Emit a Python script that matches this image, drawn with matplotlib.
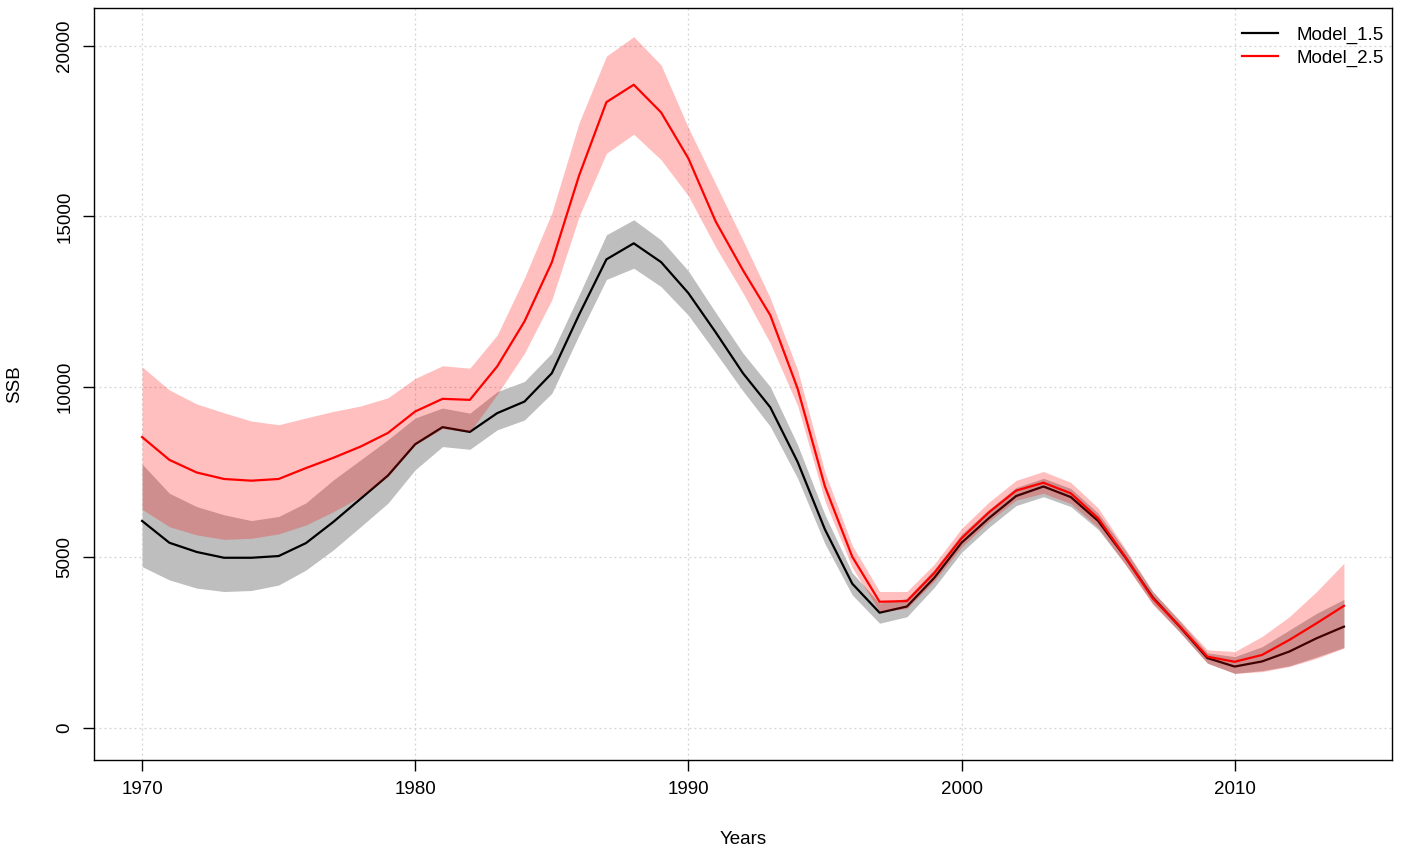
import numpy as np
import matplotlib
matplotlib.use('Agg')
import matplotlib.pyplot as plt

plt.rcParams['font.family'] = ['Liberation Sans', 'DejaVu Sans']

# DATA #
years = list(range(1970, 2015))

ssb_m15 = [6070, 5430, 5160, 4990, 4990, 5040, 5420, 6040, 6720, 7400,
           8320, 8820, 8680, 9230, 9570, 10400, 12120, 13740, 14210, 13660,
           12750, 11600, 10400, 9400, 7800, 5820, 4230, 3380, 3560, 4400,
           5430, 6150, 6800, 7080, 6770, 6070, 5000, 3830, 2960, 2050,
           1800, 1950, 2240, 2630, 2970]
upper_m15 = [7740, 6880, 6490, 6250, 6080, 6200, 6600, 7270, 7860, 8450,
             9090, 9380, 9230, 9860, 10160, 10990, 12700, 14460, 14900, 14310,
             13400, 12180, 10990, 10000, 8300, 6250, 4550, 3660, 3800, 4650,
             5680, 6400, 7050, 7320, 7020, 6300, 5200, 4000, 3120, 2200,
             2090, 2380, 2870, 3360, 3770]
lower_m15 = [4730, 4340, 4100, 4000, 4030, 4190, 4630, 5220, 5900, 6590,
             7570, 8250, 8170, 8740, 9030, 9810, 11520, 13150, 13480, 12940,
             12100, 11000, 9880, 8840, 7320, 5400, 3900, 3070, 3260, 4120,
             5150, 5880, 6520, 6780, 6490, 5820, 4800, 3650, 2800, 1900,
             1600, 1680, 1820, 2080, 2360]

ssb_m25 = [8530, 7860, 7490, 7300, 7250, 7300, 7620, 7920, 8250, 8650,
           9280, 9650, 9620, 10600, 11920, 13650, 16200, 18350, 18860, 18050,
           16700, 14850, 13420, 12100, 9950, 7080, 5020, 3700, 3720, 4540,
           5560, 6320, 6960, 7190, 6880, 6150, 5010, 3800, 2970, 2090,
           1940, 2140, 2580, 3070, 3580]
upper_m25 = [10590, 9910, 9500, 9240, 9000, 8890, 9090, 9280, 9440, 9680,
             10250, 10620, 10550, 11520, 13200, 15100, 17750, 19700, 20270, 19440,
             17600, 15950, 14300, 12600, 10500, 7500, 5350, 4000, 4000, 4800,
             5850, 6620, 7260, 7520, 7200, 6450, 5250, 4000, 3150, 2290,
             2240, 2680, 3260, 4000, 4830]
lower_m25 = [6410, 5900, 5660, 5530, 5560, 5690, 5950, 6340, 6780, 7370,
             8300, 8780, 8680, 9780, 10990, 12550, 15000, 16850, 17410, 16660,
             15600, 14100, 12750, 11280, 9450, 6650, 4700, 3410, 3500, 4300,
             5300, 6050, 6680, 6880, 6580, 5880, 4780, 3620, 2800, 1900,
             1600, 1650, 1800, 2040, 2340]

x_ticks = [1970, 1980, 1990, 2000, 2010]
y_ticks = [0, 5000, 10000, 15000, 20000]

#------ PLOT ------ #
fig = plt.figure(figsize=(14.04, 8.55), dpi=100)
ax = fig.add_axes([94/1404, 1 - 760/855, (1392-94)/1404, (760-8)/855])

ax.fill_between(years, lower_m15, upper_m15, color='#bebebe', linewidth=0, zorder=2)
ax.plot(years, ssb_m15, color='black', linewidth=1.6, label='Model_1.5', zorder=3)
ax.fill_between(years, lower_m25, upper_m25, color=(1, 0, 0, 0.25), linewidth=0, zorder=4)
ax.plot(years, ssb_m25, color='red', linewidth=1.6, label='Model_2.5', zorder=5)

ax.set_xlim(1968.24, 2015.76)
ax.set_ylim(-940, 21110)
ax.set_xticks(x_ticks)
ax.set_yticks(y_ticks)
ax.set_yticklabels([str(v) for v in y_ticks], rotation=90, va='center')
ax.tick_params(axis='both', direction='out', length=8, width=1, labelsize=13.5, pad=7)

# dotted grid like R's grid()
for xv in x_ticks:
    ax.axvline(xv, color='#d3d3d3', linestyle=(0, (1.5, 2.5)), linewidth=0.9, zorder=1)
for yv in y_ticks:
    ax.axhline(yv, color='#d3d3d3', linestyle=(0, (1.5, 2.5)), linewidth=0.9, zorder=1)

for sp in ax.spines.values():
    sp.set_linewidth(1)

ax.set_xlabel('Years', fontsize=13.5, labelpad=24)
ax.set_ylabel('SSB', fontsize=13.5, labelpad=24)

ax.legend(loc='upper right', bbox_to_anchor=(1.008, 1.0), frameon=False,
          fontsize=13.5, handlelength=1.9, handletextpad=1.0,
          borderaxespad=0.6, labelspacing=0.3)

plt.savefig('out.png', dpi=100)
